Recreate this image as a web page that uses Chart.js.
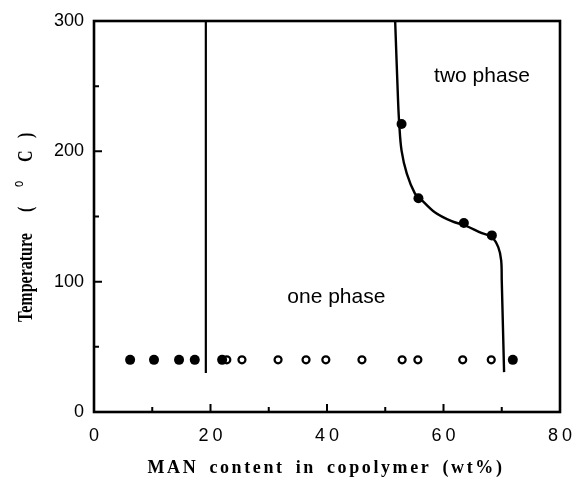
<!DOCTYPE html>
<html>
<head>
<meta charset="utf-8">
<script src="https://cdn.jsdelivr.net/npm/chart.js@4.4.1/dist/chart.umd.min.js"></script>
<style>
  html, body { margin: 0; padding: 0; background: #fff; }
  #wrap { width: 572px; height: 485px; position: relative; }
</style>
</head>
<body>
<div id="wrap"><canvas id="phaseChart"></canvas></div>
<script>
// MAN content (wt%) and temperature (deg C) of the measured copolymers
const oneRowTemp = 40;
const filledRowMan = [6.2, 10.3, 14.6, 17.3, 22.0, 71.9];
const openRowMan = [22.8, 25.4, 31.6, 36.4, 39.8, 46.0, 52.9, 55.6, 63.3, 68.2];
const cloudMan = [52.8, 55.7, 63.5, 68.3];
const cloudTemp = [221, 164, 145, 135.5];

// phase boundaries
const leftBoundaryMan = [19.2, 19.2];
const leftBoundaryTemp = [30, 300];
const curveMan = [51.7, 52.2, 52.4, 52.8, 53.7, 55.1, 56.0, 58.5, 61.4, 63.7, 66.6, 68.3, 69.4, 69.9, 70.0, 70.4];
const curveTemp = [300, 238.8, 221.2, 200.5, 182.9, 167.6, 163.8, 153.3, 146.4, 143.1, 137.2, 134.2, 126.5, 116.3, 101, 30.6];

// axis ticks
const xTicks = [0, 20, 40, 60, 80];
const xMinor = [10, 30, 50, 70];
const yTicks = [0, 100, 200, 300];
const yMinor = [50, 150, 250];

const zip = (xs, ys) => xs.map((x, i) => ({ x: x, y: Array.isArray(ys) ? ys[i] : ys }));

const sans = "'Liberation Sans', Arial, sans-serif";
const serif = "'Liberation Serif', 'Times New Roman', serif";

// frame, inward ticks, x labels, axis titles and region labels
const decorations = {
  id: "decorations",
  afterDraw(chart) {
    const { ctx, chartArea: a, scales: { x, y } } = chart;
    ctx.save();
    ctx.strokeStyle = "#000";
    ctx.fillStyle = "#000";

    ctx.lineWidth = 2.6;
    ctx.strokeRect(a.left, a.top, a.right - a.left, a.bottom - a.top);

    ctx.lineWidth = 2;
    ctx.beginPath();
    xTicks.slice(1, -1).forEach(v => {
      const px = x.getPixelForValue(v);
      ctx.moveTo(px, a.bottom); ctx.lineTo(px, a.bottom - 8);
    });
    xMinor.forEach(v => {
      const px = x.getPixelForValue(v);
      ctx.moveTo(px, a.bottom); ctx.lineTo(px, a.bottom - 5);
    });
    yTicks.slice(1, -1).forEach(v => {
      const py = y.getPixelForValue(v);
      ctx.moveTo(a.left, py); ctx.lineTo(a.left + 8, py);
    });
    yMinor.forEach(v => {
      const py = y.getPixelForValue(v);
      ctx.moveTo(a.left, py); ctx.lineTo(a.left + 5, py);
    });
    ctx.stroke();

    // x tick labels, spaced out
    ctx.font = "18px " + sans;
    ctx.textAlign = "center";
    ctx.textBaseline = "middle";
    ctx.letterSpacing = "4px";
    xTicks.forEach(v => {
      ctx.fillText(String(v), x.getPixelForValue(v) + 2, 436);
    });

    // x title
    ctx.font = "bold 18px " + serif;
    ctx.letterSpacing = "2.6px";
    ctx.wordSpacing = "4px";
    ctx.fillText("MAN content in copolymer (wt%)", 326, 468);
    ctx.letterSpacing = "0px";
    ctx.wordSpacing = "0px";

    // y title, rotated and a little condensed, with raised degree sign
    const squeeze = 0.8;
    ctx.save();
    ctx.translate(32, 322);
    ctx.rotate(-Math.PI / 2);
    ctx.scale(squeeze, 1);
    ctx.textAlign = "left";
    ctx.textBaseline = "alphabetic";
    const parts = [
      ["Temperature", 0, "bold 20px " + serif, 0],
      ["(", 110, "bold 20px " + serif, 0],
      ["o", 135, "14px " + sans, -9],
      ["C", 160, "bold 20px " + serif, 0],
      [")", 184, "bold 20px " + serif, 0],
    ];
    parts.forEach(([txt, off, font, dy]) => {
      ctx.font = font;
      ctx.fillText(txt, off / squeeze, dy);
    });
    ctx.restore();

    // region labels
    ctx.font = "21px " + sans;
    ctx.textAlign = "center";
    ctx.textBaseline = "middle";
    ctx.fillText("two phase", x.getPixelForValue(66.6), y.getPixelForValue(258));
    ctx.fillText("one phase", x.getPixelForValue(41.6), y.getPixelForValue(88));
    ctx.restore();
  }
};

new Chart(document.getElementById("phaseChart"), {
  type: "scatter",
  data: {
    datasets: [
      {
        label: "left boundary",
        data: zip(leftBoundaryMan, leftBoundaryTemp),
        showLine: true,
        borderColor: "#000",
        borderWidth: 2.2,
        pointRadius: 0,
      },
      {
        label: "cloud point curve",
        data: zip(curveMan, curveTemp),
        showLine: true,
        tension: 0.35,
        borderColor: "#000",
        borderWidth: 2.4,
        pointRadius: 0,
      },
      {
        label: "two phase",
        data: zip(filledRowMan, oneRowTemp).concat(zip(cloudMan, cloudTemp)),
        backgroundColor: "#000",
        borderColor: "#000",
        borderWidth: 0,
        pointRadius: 5,
      },
      {
        label: "one phase",
        data: zip(openRowMan, oneRowTemp),
        backgroundColor: "#fff",
        borderColor: "#000",
        borderWidth: 2.2,
        pointRadius: 3.5,
      },
    ],
  },
  options: {
    responsive: true,
    maintainAspectRatio: false,
    animation: false,
    layout: { padding: { top: 21, right: 12, left: 0, bottom: 0 } },
    plugins: {
      legend: { display: false },
      tooltip: { enabled: false },
    },
    scales: {
      x: {
        min: 0,
        max: 80,
        grid: { display: false, drawTicks: false },
        border: { display: false },
        ticks: { display: false },
        afterFit(scale) { scale.height = 73; },
      },
      y: {
        min: 0,
        max: 300,
        grid: { display: false, drawTicks: false },
        border: { display: false },
        ticks: {
          stepSize: 100,
          padding: 10,
          color: "#000",
          font: { family: sans, size: 18 },
        },
        afterFit(scale) { scale.width = 94; },
      },
    },
  },
  plugins: [decorations],
});
</script>
</body>
</html>
